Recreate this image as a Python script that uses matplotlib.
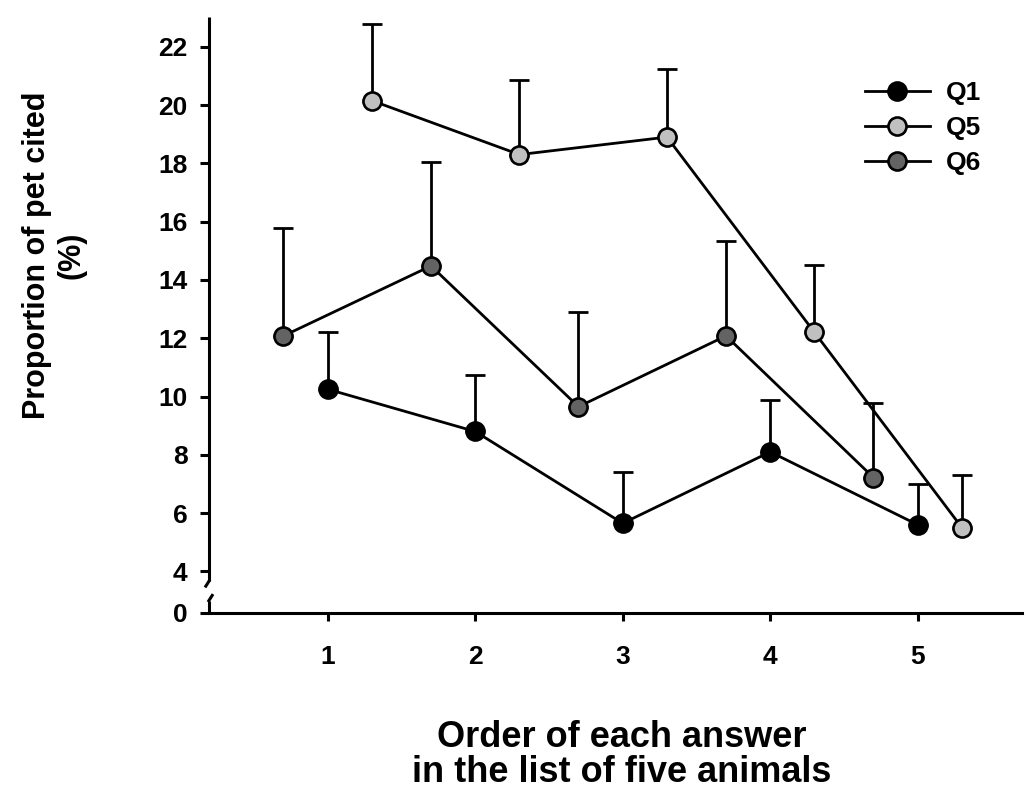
import matplotlib
matplotlib.use("Agg")
import matplotlib.pyplot as plt

plt.rcParams['font.family'] = ['Liberation Sans', 'DejaVu Sans']
plt.rcParams['font.weight'] = 'bold'

# Answer order (1st .. 5th animal cited)
order = [1, 2, 3, 4, 5]

# Proportion of pet cited (%) and upper error (SE) per question
q1_mean = [10.25, 8.8, 5.65, 8.1, 5.6]
q1_err = [1.97, 1.95, 1.75, 1.78, 1.4]

q5_mean = [20.15, 18.3, 18.9, 12.2, 5.5]
q5_err = [2.64, 2.56, 2.34, 2.32, 1.8]

q6_mean = [12.08, 14.48, 9.65, 12.08, 7.22]
q6_err = [3.69, 3.58, 3.26, 3.25, 2.56]

series_names = ['Q1', 'Q5', 'Q6']

# y tick labels; "0" sits below the axis break
ytick_labels = ['0', '4', '6', '8', '10', '12', '14', '16', '18', '20', '22']
xtick_labels = ['1', '2', '3', '4', '5']

ZERO_POS = 2.573  # where the "0" tick is placed under the broken axis
YMAX = 23.02

fig = plt.figure(figsize=(10.26, 7.89), dpi=100)
ax = fig.add_axes([209 / 1026, 1 - 613 / 789, (1022 - 209) / 1026, (613 - 17) / 789])

ax.set_xlim(0.195, 5.707)
ax.set_ylim(ZERO_POS, YMAX)

LW = 2.0
styles = [
    dict(face='black', dx=0.0, mean=q1_mean, err=q1_err),
    dict(face='#c0c0c0', dx=0.3, mean=q5_mean, err=q5_err),
    dict(face='#636363', dx=-0.3, mean=q6_mean, err=q6_err),
]

handles = []
for name, st in zip(series_names, styles):
    xs = [o + st['dx'] for o in order]
    ax.errorbar(xs, st['mean'], yerr=[[0] * len(xs), st['err']], fmt='none',
                ecolor='black', elinewidth=LW, capsize=7, capthick=LW, zorder=2)
    ln, = ax.plot(xs, st['mean'], color='black', lw=LW, marker='o',
                  markersize=13, markerfacecolor=st['face'],
                  markeredgecolor='black', markeredgewidth=1.9, zorder=3,
                  label=name)
    handles.append(ln)

# axes styling
for side in ['top', 'right', 'left']:
    ax.spines[side].set_visible(False)
ax.spines['bottom'].set_linewidth(2.2)

yticks = [ZERO_POS] + [4, 6, 8, 10, 12, 14, 16, 18, 20, 22]
ax.set_yticks(yticks)
ax.set_yticklabels(ytick_labels)
ax.set_xticks(order)
ax.set_xticklabels(xtick_labels)
ax.tick_params(axis='y', direction='out', length=6.5, width=2.2, pad=9,
               labelsize=19)
ax.tick_params(axis='x', direction='out', length=6, width=2.2, pad=17,
               labelsize=19)
for lbl in ax.get_xticklabels() + ax.get_yticklabels():
    lbl.set_fontweight('bold')

# broken left spine drawn by hand (x in axes fraction, y in data units)
trans = ax.get_yaxis_transform()
px = 1.0 / 813.0
kw = dict(color='black', lw=2.2, transform=trans, clip_on=False,
          solid_capstyle='butt', zorder=5)
ax.plot([0, 0], [3.68, YMAX], **kw)
ax.plot([1 * px, -4 * px], [3.72, 3.45], **kw)
ax.plot([4 * px, -1 * px], [3.22, 2.95], **kw)
ax.plot([0, 0], [ZERO_POS - 0.04, 3.0], **kw)

# legend
ax.legend(handles=handles, labels=series_names, loc='upper left',
          bbox_to_anchor=(865 / 1026, 1 - 81 / 789),
          bbox_transform=fig.transFigure, frameon=False,
          prop=dict(weight='bold', size=19), handlelength=2.46,
          handletextpad=0.6, labelspacing=0.42, borderpad=0,
          borderaxespad=0, numpoints=1)

# axis titles
fig.text(54 / 1026, 1 - 255 / 789, 'Proportion of pet cited\n(%)',
         rotation=90, ha='center', va='center', multialignment='center',
         fontsize=22, fontweight='bold', linespacing=1.2)
fig.text(622 / 1026, 1 - 755 / 789, 'Order of each answer\nin the list of five animals',
         ha='center', va='center', multialignment='center',
         fontsize=26, fontweight='bold', linespacing=1.0)

fig.savefig('out.png', dpi=100)
